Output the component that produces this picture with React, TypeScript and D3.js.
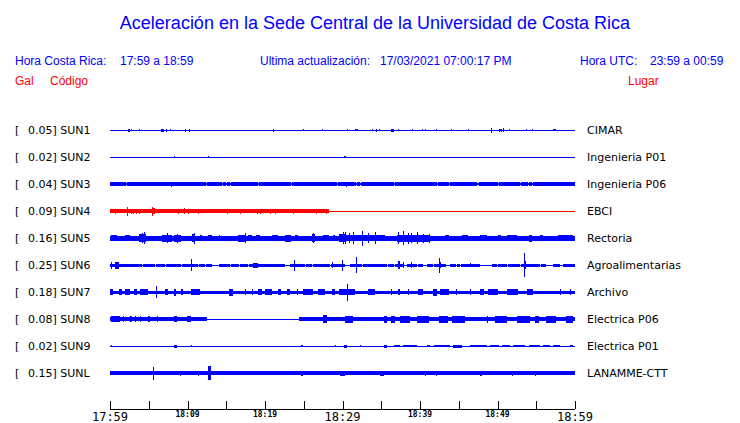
import React from "react";
import * as d3 from "d3";

// ---------- DATA ----------
const titleText = "Aceleración en la Sede Central de la Universidad de Costa Rica";
const localRange = "17:59 a 18:59";
const utcRange = "23:59 a 00:59";
const lastUpdate = "17/03/2021 07:00:17 PM";

const stationCodes = ["SUN1", "SUN2", "SUN3", "SUN4", "SUN5", "SUN6", "SUN7", "SUN8", "SUN9", "SUNL"];
const peakGal = [0.05, 0.02, 0.04, 0.09, 0.16, 0.25, 0.18, 0.08, 0.02, 0.15];
const places = ["CIMAR", "Ingenieria P01", "Ingenieria P06", "EBCI", "Rectoria", "Agroalimentarias", "Archivo", "Electrica P06", "Electrica P01", "LANAMME-CTT"];
const alertStations = ["SUN4"];

// time in minutes after 17:59, amplitudes in gal: [t0, t1, halfAmplitude]
const tickMinutes = [0, 5, 10, 15, 20, 25, 30, 35, 40, 45, 50, 55, 60];
const labelMinutes = [0, 10, 20, 30, 40, 50, 60];
const tickLabels = ["17:59", "18:09", "18:19", "18:29", "18:39", "18:49", "18:59"];
const majorLabels = ["17:59", "18:29", "18:59"];

const sun1Base = [[0, 60, 0.01]];
const sun1Bursts = [[2.3, 2.6, 0.03], [2.7, 2.7, 0.025], [3.8, 3.8, 0.025], [6.6, 7.0, 0.03], [7.2, 7.3, 0.03], [7.8, 7.8, 0.02], [9.7, 9.7, 0.03], [10.2, 10.2, 0.03], [21.0, 21.2, 0.03], [24.9, 24.9, 0.02], [27.3, 27.3, 0.02], [30.6, 30.6, 0.025], [31.6, 31.6, 0.02], [31.7, 32.0, 0.025], [33.8, 33.8, 0.02], [34.3, 34.5, 0.03], [34.7, 34.7, 0.025], [36.3, 36.6, 0.03], [37.1, 37.1, 0.02], [39.0, 39.0, 0.02], [40.3, 40.3, 0.02], [40.7, 40.7, 0.025], [42.1, 42.1, 0.025], [44.0, 44.0, 0.02], [46.2, 46.2, 0.02], [49.1, 49.3, 0.05], [50.2, 50.2, 0.03], [50.3, 50.3, 0.025], [50.5, 50.5, 0.03], [50.7, 50.9, 0.045], [51.5, 51.5, 0.025], [53.7, 53.7, 0.02], [54.5, 54.5, 0.02], [57.1, 57.1, 0.02], [57.3, 57.5, 0.025]];

const sun2Base = [[0, 60, 0.01]];
const sun2Bursts = [[8.2, 8.2, 0.02], [12.6, 12.8, 0.025], [30.2, 30.5, 0.025]];

const sun3Base = [[0, 60, 0.04]];
const sun3Quiet = [[2.0, 2.0, 0.025], [12.4, 12.4, 0.025], [14.5, 14.5, 0.025], [15.0, 15.0, 0.025], [15.5, 15.5, 0.025], [19.1, 19.1, 0.025], [23.4, 23.4, 0.025], [29.3, 29.3, 0.025], [31.7, 31.7, 0.025], [32.2, 32.2, 0.025], [36.7, 36.7, 0.025], [42.2, 42.2, 0.025], [43.7, 43.7, 0.025], [47.3, 47.6, 0.025], [50.1, 50.1, 0.025], [52.9, 52.9, 0.025], [53.9, 53.9, 0.025], [54.4, 54.4, 0.025]];
const sun3Bursts = [[7.9, 7.9, 0.05], [30.4, 30.5, 0.055]];

const sun4Base = [[0, 28.2, 0.038], [28.2, 60, 0.01]];
const sun4Bursts = [[0.7, 0.7, 0.05], [2.2, 2.2, 0.09], [2.7, 2.7, 0.055], [3.0, 3.0, 0.055], [3.35, 3.35, 0.05], [3.8, 3.8, 0.055], [5.45, 5.45, 0.09], [5.5, 5.8, 0.06], [8.8, 8.8, 0.05], [9.5, 9.5, 0.065], [10.1, 10.1, 0.05], [11.4, 11.4, 0.05], [15.1, 15.1, 0.05], [16.8, 16.8, 0.05], [19.0, 19.0, 0.05], [19.4, 19.4, 0.05], [20.6, 20.6, 0.05], [21.3, 21.3, 0.05], [23.6, 23.8, 0.05], [26.6, 26.6, 0.05], [27.9, 27.9, 0.05]];

const sun5Base = [[0, 60, 0.05]];
const sun5Bursts = [[0.1, 0.9, 0.065], [1.9, 2.6, 0.065], [3.8, 4.7, 0.08], [4.4, 4.4, 0.13], [4.1, 4.1, 0.1], [6.7, 8.0, 0.07], [7.3, 7.3, 0.1], [8.2, 9.2, 0.07], [8.7, 8.7, 0.09], [10.6, 11.0, 0.08], [10.8, 10.8, 0.11], [11.6, 11.9, 0.065], [12.7, 13.1, 0.065], [14.0, 14.2, 0.065], [16.5, 17.4, 0.07], [17.4, 17.4, 0.1], [17.8, 18.3, 0.06], [18.9, 19.4, 0.06], [20.9, 21.7, 0.065], [22.6, 23.4, 0.07], [23.9, 24.3, 0.065], [26.0, 26.5, 0.08], [26.2, 26.2, 0.1], [27.5, 28.2, 0.065], [28.8, 29.0, 0.065], [29.5, 30.3, 0.08], [30.3, 30.3, 0.12], [29.5, 35.5, 0.065], [30.1, 30.1, 0.12], [30.9, 30.9, 0.1], [31.4, 31.4, 0.12], [32.5, 32.5, 0.16], [33.3, 33.3, 0.1], [34.2, 34.2, 0.12], [37.0, 41.3, 0.07], [37.2, 37.2, 0.12], [37.8, 37.8, 0.15], [38.5, 38.5, 0.11], [38.9, 38.9, 0.1], [39.6, 39.6, 0.12], [40.4, 40.4, 0.09], [41.1, 41.1, 0.09], [43.2, 43.7, 0.065], [45.4, 46.2, 0.065], [47.7, 48.6, 0.065], [50.1, 50.5, 0.065], [51.2, 52.5, 0.065], [54.0, 54.4, 0.07], [55.5, 55.9, 0.065], [57.8, 59.8, 0.065]];

const sun6Base = [[0, 60, 0.035]];
const sun6Quiet = [[4.1, 4.1, 0.012], [5.8, 5.8, 0.012], [7.1, 7.1, 0.012], [9.2, 9.2, 0.012], [11.4, 11.4, 0.012], [12.3, 12.3, 0.012], [13.2, 14.0, 0.012], [15.5, 15.5, 0.012], [16.6, 16.6, 0.012], [17.8, 17.8, 0.012], [22.6, 23.2, 0.012], [25.2, 25.2, 0.012], [26.0, 26.0, 0.012], [28.4, 28.4, 0.012], [30.3, 31.0, 0.012], [32.5, 32.5, 0.012], [35.7, 35.7, 0.012], [36.6, 36.6, 0.012], [37.8, 38.3, 0.012], [39.6, 39.6, 0.012], [40.4, 40.9, 0.012], [41.7, 41.7, 0.012], [43.4, 43.9, 0.012], [44.7, 44.7, 0.012], [45.2, 45.2, 0.012], [47.7, 49.3, 0.012], [49.9, 49.9, 0.012], [51.2, 51.2, 0.012], [52.9, 52.9, 0.012], [55.5, 55.5, 0.012], [56.3, 57.2, 0.012], [58.1, 58.5, 0.012]];
const sun6Bursts = [[0.1, 0.1, 0.07], [0.7, 1.1, 0.07], [10.5, 10.5, 0.13], [18.5, 19.1, 0.05], [23.7, 23.7, 0.11], [28.6, 28.6, 0.06], [29.9, 29.9, 0.11], [31.7, 31.7, 0.165], [37.1, 37.4, 0.085], [37.8, 37.8, 0.06], [38.8, 38.8, 0.06], [42.4, 42.4, 0.155], [42.6, 42.6, 0.06], [46.4, 46.4, 0.045], [53.4, 53.4, 0.25], [53.6, 53.6, 0.08]];

const sun7Base = [[0, 60, 0.035]];
const sun7Bursts = [[0.0, 0.4, 0.06], [1.1, 1.5, 0.06], [1.9, 2.6, 0.06], [3.1, 3.5, 0.06], [3.9, 4.9, 0.06], [5.9, 5.9, 0.12], [7.1, 7.5, 0.06], [8.2, 8.5, 0.07], [9.2, 9.4, 0.06], [10.5, 11.6, 0.06], [15.3, 15.9, 0.07], [17.4, 17.4, 0.06], [18.3, 18.5, 0.06], [19.1, 19.6, 0.06], [20.0, 20.9, 0.06], [21.7, 22.1, 0.06], [22.8, 23.2, 0.06], [24.1, 24.3, 0.06], [24.9, 26.2, 0.06], [26.9, 27.7, 0.065], [28.6, 29.0, 0.06], [29.5, 30.3, 0.06], [29.7, 31.6, 0.06], [30.6, 30.6, 0.18], [33.3, 34.2, 0.06], [36.3, 36.3, 0.06], [37.2, 37.4, 0.06], [38.5, 38.5, 0.06], [39.8, 40.4, 0.06], [41.7, 42.2, 0.075], [42.6, 43.7, 0.06], [44.7, 44.7, 0.06], [46.5, 46.5, 0.06], [47.7, 48.2, 0.06], [48.8, 50.1, 0.06], [51.2, 52.7, 0.06], [53.8, 54.6, 0.06], [58.1, 58.1, 0.06], [59.4, 59.4, 0.06]];

const sun8Base = [[0, 12.5, 0.038], [12.5, 24.4, 0.01], [24.4, 60, 0.045]];
const sun8Bursts = [[0.1, 1.3, 0.06], [1.7, 1.7, 0.06], [2.6, 2.8, 0.06], [3.2, 3.2, 0.06], [3.9, 3.9, 0.06], [4.9, 5.2, 0.06], [6.0, 6.2, 0.065], [8.2, 8.7, 0.065], [9.9, 10.5, 0.06], [27.5, 28.0, 0.08], [30.3, 31.4, 0.07], [35.3, 35.7, 0.07], [36.3, 36.8, 0.075], [37.4, 38.7, 0.07], [39.6, 41.1, 0.07], [42.4, 43.6, 0.07], [44.1, 45.8, 0.075], [48.6, 48.8, 0.07], [49.7, 51.2, 0.07], [52.5, 54.2, 0.075], [54.8, 55.3, 0.07], [56.3, 57.6, 0.07], [58.9, 59.8, 0.07]];

const sun9Base = [[0, 60, 0.01]];
const sun9Bursts = [[0.1, 0.1, 0.02], [8.2, 8.6, 0.03], [10.5, 10.5, 0.025], [24.7, 24.9, 0.025], [29.0, 29.0, 0.025], [30.2, 30.6, 0.03], [32.3, 32.3, 0.025], [35.3, 35.7, 0.03], [36.6, 37.4, 0.025], [37.8, 39.6, 0.025], [40.9, 41.3, 0.025], [41.8, 43.9, 0.025], [44.3, 45.4, 0.03], [46.5, 48.6, 0.025], [49.0, 50.2, 0.025], [50.6, 51.6, 0.025], [52.0, 53.6, 0.025], [54.0, 55.5, 0.025], [55.9, 56.8, 0.025], [57.2, 58.1, 0.025], [59.4, 59.8, 0.025]];

const sunLBase = [[0, 60, 0.04]];
const sunLBursts = [[5.6, 5.6, 0.14], [9.0, 9.2, 0.05], [11.3, 11.3, 0.05], [12.7, 13.0, 0.15], [24.7, 24.9, 0.05], [29.7, 30.3, 0.055], [34.8, 35.3, 0.055], [40.6, 40.6, 0.05], [42.1, 42.1, 0.05], [47.7, 48.0, 0.055], [51.9, 51.9, 0.05], [54.8, 54.8, 0.05]];

const baseByRow = [sun1Base, sun2Base, sun3Base, sun4Base, sun5Base, sun6Base, sun7Base, sun8Base, sun9Base, sunLBase];
const quietByRow = [[], [], sun3Quiet, [], [], sun6Quiet, [], [], [], []];
const burstsByRow = [sun1Bursts, sun2Bursts, sun3Bursts, sun4Bursts, sun5Bursts, sun6Bursts, sun7Bursts, sun8Bursts, sun9Bursts, sunLBursts];

// ---------- CHART ----------
const W = 740;
const H = 423;
const BLUE = "#0000ff";
const RED = "#ff0000";
const SANS = "'Liberation Sans', Arial, sans-serif";
const DJ = "'DejaVu Sans', sans-serif";
const MONO = "'DejaVu Sans Mono', monospace";

export default function App() {
  const x = d3.scaleLinear().domain([0, 60]).range([110, 575]);
  const amp = d3.scaleLinear().domain([0, 0.25]).range([0, 12]);
  const y = d3.scalePoint<string>().domain(stationCodes).range([130, 373]);
  const axisY = 409;

  const traces = stationCodes.map((code, i) => ({
    code,
    peak: peakGal[i],
    place: places[i],
    base: baseByRow[i],
    quiet: quietByRow[i],
    bursts: burstsByRow[i],
    color: alertStations.includes(code) ? RED : BLUE,
  }));

  const rect = (t0: number, t1: number, a: number, cy: number, color: string, key: string) => {
    const x0 = Math.round(x(t0));
    const x1 = Math.max(x0 + 1, Math.round(x(t1)));
    const h = Math.max(1, Math.round(2 * amp(a)));
    return (
      <rect key={key} x={x0} y={Math.round(cy - h / 2)} width={x1 - x0} height={h} fill={color} />
    );
  };

  const segmentsFor = (tr: any) => {
    const out: [number, number, number][] = [];
    tr.base.forEach(([t0, t1, a]: number[]) => {
      let cur = t0;
      const gaps = tr.quiet.filter((q: number[]) => q[0] >= t0 && q[0] < t1).sort((p: number[], q: number[]) => p[0] - q[0]);
      gaps.forEach(([q0, q1, qa]: number[]) => {
        const qe = Math.max(q1, q0 + x.invert(111) - x.invert(110));
        if (q0 > cur) out.push([cur, q0, a]);
        out.push([q0, qe, qa]);
        cur = qe;
      });
      if (cur < t1) out.push([cur, t1, a]);
    });
    return out;
  };

  return (
    <svg width={W} height={H} style={{ position: "absolute", left: 0, top: 0, background: "#fff" }} shapeRendering="crispEdges">
      <rect x={0} y={0} width={W} height={H} fill="#fff" />
      <text x={375} y={29} textAnchor="middle" fontFamily={SANS} fontSize={18} fill={BLUE}>{titleText}</text>

      <g fontFamily={SANS} fontSize={12} fill={BLUE}>
        <text x={15} y={65}>Hora Costa Rica:</text>
        <text x={120} y={65}>{localRange}</text>
        <text x={260} y={65}>Ultima actualización:</text>
        <text x={380} y={65}>{lastUpdate}</text>
        <text x={580} y={65}>Hora UTC:</text>
        <text x={650} y={65}>{utcRange}</text>
      </g>
      <g fontFamily={SANS} fontSize={12} fill={RED}>
        <text x={15} y={85}>Gal</text>
        <text x={50} y={85}>Código</text>
        <text x={628} y={85}>Lugar</text>
      </g>

      {traces.map((tr) => {
        const cy = y(tr.code) as number;
        return (
          <g key={tr.code}>
            <g fontFamily={DJ} fontSize={11} fill="#000">
              <text x={15} y={cy + 4}>[</text>
              <text x={28} y={cy + 4}>{tr.peak.toFixed(2)}] {tr.code}</text>
              <text x={587} y={cy + 4}>{tr.place}</text>
            </g>
            {segmentsFor(tr).map((s, j) => rect(s[0], s[1], s[2], cy, tr.color, "b" + j))}
            {tr.bursts.map((s: number[], j: number) => rect(s[0], s[1], s[2], cy, tr.color, "s" + j))}
          </g>
        );
      })}

      <line x1={x(0)} x2={x(60)} y1={axisY} y2={axisY} stroke="#000" strokeWidth={1} />
      {tickMinutes.map((m) => (
        <line key={m} x1={Math.round(x(m)) + 0.5} x2={Math.round(x(m)) + 0.5} y1={axisY} y2={axisY - 8} stroke="#000" strokeWidth={1} />
      ))}
      {labelMinutes.map((m, i) => {
        const lab = tickLabels[i];
        const major = majorLabels.includes(lab);
        return (
          <text
            key={m}
            x={x(m)}
            y={major ? 421 : 417}
            textAnchor="middle"
            fontFamily={MONO}
            fontSize={major ? 12 : 8}
            fontWeight={major ? "normal" : "bold"}
            fill="#000"
          >
            {lab}
          </text>
        );
      })}
    </svg>
  );
}
